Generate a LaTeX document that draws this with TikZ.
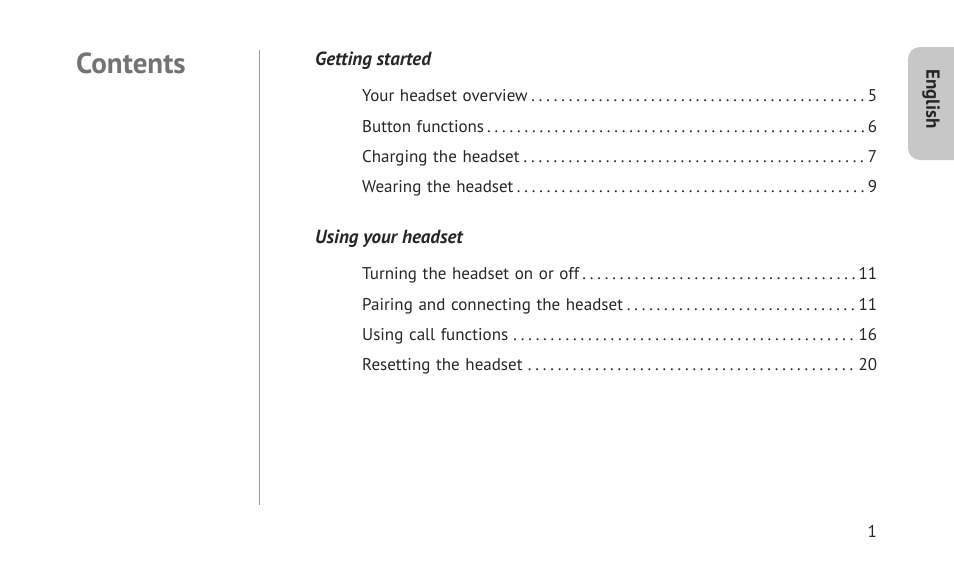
\documentclass[tikz,border=0pt]{standalone}
\usepackage{fontspec}
\setmainfont{PT Sans}
\begin{document}
\begin{tikzpicture}[x=1pt,y=-1pt,
  entry/.style={anchor=base west,inner sep=0pt,text width=515pt,font=\fontsize{17}{20}\selectfont,text=black!85},
  head/.style={anchor=base west,inner sep=0pt,font=\fontsize{19}{22}\selectfont\bfseries\itshape,text=black!85}]
\useasboundingbox (0,0) rectangle (954,573);
\fill[white] (0,0) rectangle (954,573);
\node[anchor=base west,inner sep=0pt,font=\fontsize{29}{34}\selectfont\bfseries,text=black!55] (title) at (76,73) {Contents};
\draw[black!40,line width=0.8pt] (259,50) coordinate (l1) -- (259,505) coordinate (l2);
\node[head] (h1) at (315,65) {Getting started};
\node[entry] (e1) at (362,101) {Your headset overview\dotfill 5};
\node[entry] (e2) at (362,132) {Button functions\dotfill 6};
\node[entry] (e3) at (362,162) {Charging the headset\dotfill 7};
\node[entry] (e4) at (362,192) {Wearing the headset\dotfill 9};
\node[head] (h2) at (315,243) {Using your headset};
\node[entry] (e5) at (362,279) {Turning the headset on or off\dotfill 11};
\node[entry] (e6) at (362,310) {Pairing and connecting the headset\dotfill 11};
\node[entry] (e7) at (362,340) {Using call functions\dotfill 16};
\node[entry] (e8) at (362,370) {Resetting the headset\dotfill 20};
\node[anchor=base east,inner sep=0pt,font=\fontsize{17}{20}\selectfont,text=black!85] (pg) at (877,537) {1};
\fill[black!22,rounded corners=12pt] (908,47) rectangle (975,160);
\node[rotate=-90,inner sep=0pt,font=\fontsize{19}{22}\selectfont\bfseries,text=black!85] (tab) at (931,99) {English};
\end{tikzpicture}
\end{document}
